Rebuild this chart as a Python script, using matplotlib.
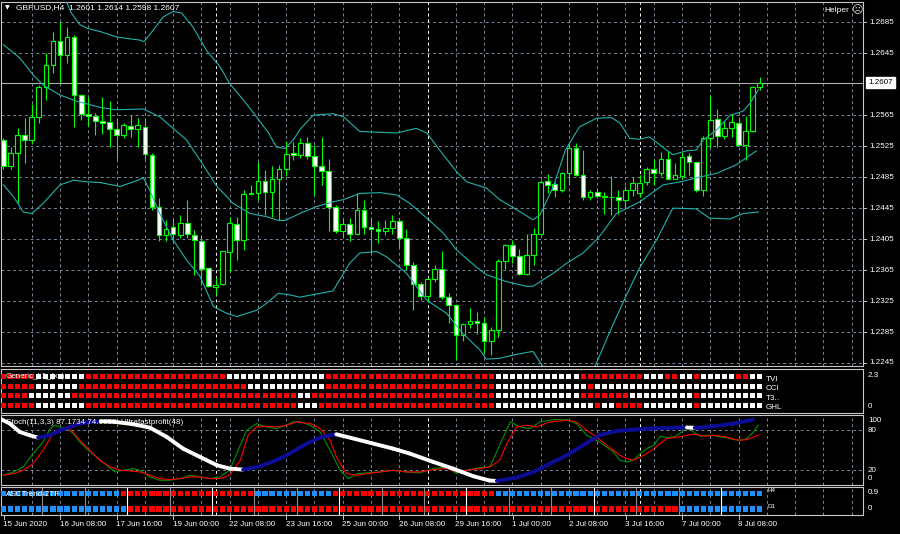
import matplotlib
matplotlib.use('Agg')
import matplotlib.pyplot as plt
import numpy as np
from matplotlib.collections import LineCollection
from matplotlib.lines import Line2D

W, H = 900, 534

# GBPUSD H4 candles, one per bar (15 Jun 2020 00:00 .. 8 Jul 2020 20:00)
opens = [1.2533, 1.2499, 1.2516, 1.2540, 1.2533, 1.2563, 1.2601, 1.2630, 1.2661, 1.2643,
         1.2666, 1.2591, 1.2567, 1.2564, 1.2557, 1.2556, 1.2547, 1.2540, 1.2551, 1.2547,
         1.2550, 1.2514, 1.2447, 1.2410, 1.2420, 1.2410, 1.2426, 1.2410, 1.2403, 1.2368,
         1.2343, 1.2347, 1.2388, 1.2425, 1.2404, 1.2463, 1.2465, 1.2480, 1.2466, 1.2483,
         1.2496, 1.2516, 1.2514, 1.2529, 1.2512, 1.2499, 1.2493, 1.2447, 1.2415, 1.2424,
         1.2412, 1.2443, 1.2420, 1.2418, 1.2416, 1.2419, 1.2429, 1.2407, 1.2372, 1.2347,
         1.2332, 1.2353, 1.2366, 1.2330, 1.2320, 1.2281, 1.2295, 1.2299, 1.2296, 1.2273,
         1.2288, 1.2377, 1.2397, 1.2383, 1.2360, 1.2385, 1.2412, 1.2480, 1.2476, 1.2468,
         1.2491, 1.2523, 1.2488, 1.2459, 1.2466, 1.2461, 1.2460, 1.2459, 1.2455, 1.2468,
         1.2464, 1.2479, 1.2496, 1.2490, 1.2509, 1.2483, 1.2487, 1.2512, 1.2504, 1.2468,
         1.2535, 1.2560, 1.2538, 1.2549, 1.2555, 1.2527, 1.2544, 1.2601]
highs = [1.2535, 1.2524, 1.2548, 1.2561, 1.2580, 1.2604, 1.2645, 1.2673, 1.2685, 1.2679,
         1.2669, 1.2592, 1.2588, 1.2568, 1.2589, 1.2583, 1.2561, 1.2555, 1.2565, 1.2561,
         1.2561, 1.2516, 1.2458, 1.2430, 1.2431, 1.2436, 1.2456, 1.2417, 1.2410, 1.2368,
         1.2356, 1.2389, 1.2434, 1.2433, 1.2468, 1.2475, 1.2505, 1.2494, 1.2500, 1.2501,
         1.2532, 1.2531, 1.2535, 1.2537, 1.2527, 1.2537, 1.2508, 1.2449, 1.2432, 1.2432,
         1.2464, 1.2456, 1.2434, 1.2428, 1.2430, 1.2436, 1.2432, 1.2418, 1.2376, 1.2350,
         1.2356, 1.2372, 1.2389, 1.2335, 1.2321, 1.2297, 1.2316, 1.2311, 1.2305, 1.2292,
         1.2379, 1.2399, 1.2404, 1.2392, 1.2412, 1.2419, 1.2481, 1.2489, 1.2479, 1.2492,
         1.2529, 1.2529, 1.2520, 1.2468, 1.2471, 1.2466, 1.2486, 1.2468, 1.2473, 1.2485,
         1.2488, 1.2498, 1.2508, 1.2518, 1.2519, 1.2503, 1.2518, 1.2516, 1.2505, 1.2538,
         1.2591, 1.2573, 1.2557, 1.2567, 1.2563, 1.2564, 1.2603, 1.2614]
lows = [1.2496, 1.2496, 1.2452, 1.2503, 1.2529, 1.2555, 1.2585, 1.2619, 1.2606, 1.2632,
        1.2550, 1.2559, 1.2551, 1.2539, 1.2541, 1.2524, 1.2509, 1.2535, 1.2537, 1.2524,
        1.2509, 1.2443, 1.2402, 1.2402, 1.2402, 1.2406, 1.2406, 1.2359, 1.2346, 1.2343,
        1.2333, 1.2346, 1.2363, 1.2378, 1.2391, 1.2463, 1.2456, 1.2436, 1.2434, 1.2430,
        1.2486, 1.2507, 1.2510, 1.2509, 1.2462, 1.2475, 1.2415, 1.2413, 1.2407, 1.2402,
        1.2411, 1.2411, 1.2387, 1.2400, 1.2410, 1.2412, 1.2395, 1.2365, 1.2313, 1.2326,
        1.2324, 1.2349, 1.2328, 1.2297, 1.2249, 1.2273, 1.2290, 1.2283, 1.2258, 1.2255,
        1.2278, 1.2367, 1.2374, 1.2359, 1.2359, 1.2372, 1.2411, 1.2465, 1.2459, 1.2466,
        1.2477, 1.2487, 1.2456, 1.2456, 1.2458, 1.2437, 1.2436, 1.2438, 1.2445, 1.2461,
        1.2460, 1.2475, 1.2475, 1.2486, 1.2482, 1.2482, 1.2483, 1.2488, 1.2466, 1.2461,
        1.2522, 1.2524, 1.2534, 1.2537, 1.2525, 1.2507, 1.2543, 1.2598]
closes = [1.2499, 1.2516, 1.2540, 1.2533, 1.2563, 1.2601, 1.2630, 1.2661, 1.2643, 1.2666,
          1.2591, 1.2567, 1.2564, 1.2557, 1.2555, 1.2547, 1.2540, 1.2552, 1.2547, 1.2552,
          1.2515, 1.2447, 1.2410, 1.2418, 1.2412, 1.2426, 1.2411, 1.2404, 1.2367, 1.2344,
          1.2346, 1.2389, 1.2426, 1.2404, 1.2463, 1.2464, 1.2480, 1.2466, 1.2483, 1.2496,
          1.2515, 1.2514, 1.2529, 1.2512, 1.2499, 1.2493, 1.2447, 1.2415, 1.2424, 1.2412,
          1.2443, 1.2420, 1.2418, 1.2415, 1.2419, 1.2429, 1.2407, 1.2372, 1.2347, 1.2332,
          1.2353, 1.2366, 1.2330, 1.2320, 1.2281, 1.2295, 1.2299, 1.2296, 1.2273, 1.2288,
          1.2377, 1.2397, 1.2383, 1.2360, 1.2385, 1.2412, 1.2479, 1.2475, 1.2468, 1.2491,
          1.2522, 1.2488, 1.2459, 1.2466, 1.2461, 1.2459, 1.2459, 1.2455, 1.2468, 1.2478,
          1.2478, 1.2496, 1.2490, 1.2508, 1.2483, 1.2488, 1.2511, 1.2505, 1.2469, 1.2536,
          1.2559, 1.2538, 1.2548, 1.2556, 1.2527, 1.2544, 1.2602, 1.2607]

# Bollinger bands (bar position, price)
bb_up_x = [0, 3, 6, 8.9, 9.6, 10.8, 11.9, 13.7, 16.0, 19.3, 19.9, 21.2, 22.6, 24.0, 25.2, 26.8,
           28.7, 30.6, 32.0, 33.9, 35.8, 37.5, 38.6, 39.8, 41.0, 41.9, 43.8, 46.6, 48.1, 50.4,
           55.6, 58.4, 59.9, 61.7, 64.1, 65.5, 68.3, 70.2, 72.6, 74.9, 75.9, 77.8, 79.5, 81.5,
           83.9, 86.0, 87.2, 88.6, 90.0, 91.4, 93.8, 94.7, 96.6, 98.0, 99.0, 100.9, 102.8,
           104.6, 105.6, 106.8]
bb_up_y = [1.2840, 1.2800, 1.2750, 1.2712, 1.2697, 1.2682, 1.2677, 1.2673, 1.2666, 1.2662,
           1.2660, 1.2675, 1.2692, 1.2699, 1.2697, 1.2679, 1.2649, 1.2628, 1.2606, 1.2585,
           1.2563, 1.2542, 1.2524, 1.2522, 1.2533, 1.2546, 1.2565, 1.2567, 1.2563, 1.2544,
           1.2542, 1.2548, 1.2542, 1.2520, 1.2492, 1.2479, 1.2471, 1.2456, 1.2443, 1.2430,
           1.2436, 1.2473, 1.2520, 1.2550, 1.2561, 1.2562, 1.2555, 1.2535, 1.2534, 1.2537,
           1.2520, 1.2514, 1.2519, 1.2520, 1.2533, 1.2546, 1.2565, 1.2570, 1.2580, 1.2598]
bb_mid_x = [0, 2.3, 4.2, 5.6, 8.0, 10.4, 13.7, 16.0, 19.8, 22.1, 24.0, 25.9, 27.8, 30.2, 32.5,
            34.9, 37.2, 38.9, 39.8, 41.0, 41.9, 44.3, 46.6, 48.1, 50.4, 53.3, 55.6, 57.5, 59.9,
            62.2, 64.1, 66.5, 68.3, 71.2, 74.0, 74.9, 77.8, 79.7, 82.0, 84.2, 86.7, 90.0,
            93.3, 95.8, 98.0, 100.9, 103.7, 106.5]
bb_mid_y = [1.2656, 1.2639, 1.2617, 1.2604, 1.2591, 1.2583, 1.2575, 1.2572, 1.2573, 1.2563,
            1.2548, 1.2533, 1.2507, 1.2473, 1.2451, 1.2438, 1.2434, 1.2429, 1.2429, 1.2434,
            1.2438, 1.2447, 1.2453, 1.2456, 1.2464, 1.2465, 1.2462, 1.2451, 1.2432, 1.2413,
            1.2391, 1.2372, 1.2359, 1.2350, 1.2344, 1.2344, 1.2361, 1.2374, 1.2387, 1.2407,
            1.2438, 1.2453, 1.2475, 1.2479, 1.2484, 1.2490, 1.2501, 1.2519]
bb_low_x = [0, 1.4, 2.8, 4.0, 5.6, 8.0, 9.9, 11.8, 13.7, 16.5, 18.4, 19.8, 20.7, 22.1, 24.0,
            25.9, 27.8, 29.7, 31.6, 33.0, 34.4, 35.8, 37.2, 38.9, 40.5, 41.9, 46.6, 49.0, 50.4,
            52.8, 54.2, 57.0, 59.9, 62.7, 65.0, 67.4, 68.3, 70.2, 72.5, 74.9, 76.5, 79.0, 81.5,
            83.7, 86.0, 88.0, 90.0, 92.4, 94.7, 98.0, 99.9, 102.8, 104.6, 106.8]
bb_low_y = [1.2475, 1.2460, 1.2440, 1.2438, 1.2451, 1.2475, 1.2481, 1.2479, 1.2478, 1.2473,
            1.2479, 1.2484, 1.2468, 1.2438, 1.2404, 1.2378, 1.2357, 1.2318, 1.2309, 1.2305,
            1.2309, 1.2313, 1.2322, 1.2335, 1.2333, 1.2330, 1.2338, 1.2374, 1.2387, 1.2389,
            1.2382, 1.2361, 1.2326, 1.2309, 1.2283, 1.2262, 1.2250, 1.2251, 1.2256, 1.2260,
            1.2238, 1.2220, 1.2225, 1.2241, 1.2290, 1.2330, 1.2368, 1.2404, 1.2445, 1.2444,
            1.2432, 1.2431, 1.2438, 1.2440]

# Stochastic(11,3,3): main (green) and signal (red)
k_x = [0, 1.4, 2.8, 4.2, 5.6, 6.6, 7.3, 8.0, 9.0, 9.9, 10.8, 12.0, 13.2, 14.6, 15.8, 17.0, 18.4,
       19.3, 20.7, 22.1, 23.5, 25.0, 26.4, 27.8, 29.2, 30.6, 32.0, 33.0, 34.4, 35.8, 37.2, 38.6,
       40.0, 41.0, 41.9, 43.4, 44.8, 45.7, 46.7, 47.6, 48.8, 50.0, 51.4, 53.3, 55.1, 57.0, 58.9,
       60.8, 62.7, 64.1, 65.5, 67.4, 68.8, 70.2, 71.7, 73.1, 74.5, 75.9, 77.8, 79.7, 81.1, 82.5,
       84.4, 85.3, 86.3, 87.2, 88.2, 89.1, 90.1, 91.0, 92.0, 92.9, 93.8, 94.8, 95.7, 96.7, 97.6,
       98.6, 99.5, 100.4, 101.4, 102.3, 103.3, 104.2, 105.2, 106.1, 106.8]
k_y = [12.5, 17.5, 25, 45, 62.5, 82.5, 87.5, 85, 82.5, 75, 62.5, 50, 40, 27.5, 17.5, 20, 22.5,
       20, 10, 5, 5, 7.5, 12.5, 10, 7.5, 10, 20, 45, 80, 90, 85, 82.5,
       87.5, 92.5, 93, 87.5, 77.5, 60, 40, 20, 7.5, 15, 16, 17.5, 20, 17.5, 16,
       22.5, 25, 15, 20, 24, 25, 57.5, 92.5, 85, 82.5, 92.5, 96, 96, 90, 72.5,
       62, 55, 47.5, 35, 32.5, 35, 45, 52.5, 57.5, 71, 69, 70, 75, 85, 77.5,
       71, 72.5, 72.5, 70, 69, 66, 65, 67.5, 77.5, 87.5]
d_x = [0, 1.4, 2.8, 4.2, 5.6, 7.0, 8.5, 9.6, 10.8, 12.2, 13.6, 15.1, 16.5, 17.9, 19.3, 20.7,
       22.1, 23.5, 25.0, 26.4, 27.8, 29.2, 30.6, 32.0, 33.5, 34.6, 35.8, 37.2, 38.6, 40.0, 41.5,
       43.4, 44.8, 46.2, 47.1, 48.5, 50.0, 51.4, 53.3, 55.1, 57.0, 58.9, 60.8, 62.7, 64.1, 65.5,
       67.4, 68.8, 70.2, 71.2, 72.6, 74.0, 75.4, 77.3, 79.7, 81.1, 82.5, 83.9, 85.3, 86.3, 87.2,
       88.2, 89.1, 90.1, 91.0, 92.0, 92.9, 93.8, 94.8, 95.7, 96.7, 97.6, 98.6, 99.5, 100.4,
       101.4, 102.3, 103.3, 104.2, 105.2, 106.1, 106.8]
d_y = [12.5, 15, 20, 30, 50, 75, 82.5, 80, 65, 50, 35, 25, 20, 19, 17.5, 12.5,
       7.5, 6, 7.5, 10, 10, 7.5, 7.5, 12.5, 35, 72.5, 85, 86, 85, 87.5, 92.5,
       90, 82.5, 65, 40, 15, 12.5, 15, 17.5, 20, 17.5, 17.5, 21, 22.5, 17.5, 20,
       22.5, 25, 35, 60, 85, 87.5, 85, 92.5, 95, 92.5, 80, 70, 57.5, 50, 42.5,
       37.5, 35, 40, 45, 52.5, 60, 67.5, 69, 70, 72.5, 74, 72.5, 71, 72.5,
       71, 70, 66.5, 65, 66, 70, 72.5]

# thick trend line (white falling / blue rising)
fp_x = [-0.5, 0.9, 2.3, 3.7, 4.9, 6.6, 8.0, 9.4, 10.8, 12.2, 13.8, 15.5, 18.4, 20.7, 23.1, 25.4,
        27.8, 30.2, 32.0, 33.9, 36.3, 38.6, 40.5, 41.9, 43.4, 44.8, 46.2, 47.1, 51.4, 55.1, 57.5,
        60.8, 63.6, 66.5, 68.8, 69.8, 72.6, 75.0, 77.3, 79.7, 82.0, 84.4, 86.8, 89.1, 91.5, 93.8,
        95.7, 96.7, 97.8, 98.5, 100.4, 103.3, 106.0]
fp_y = [97.5, 90, 77.5, 72.5, 69, 72.5, 80, 85, 90, 92.5, 93.5, 93, 89, 84, 70, 52.5,
        40, 27.5, 22.5, 21, 26, 35, 45, 54, 62.5, 69, 72.5, 74, 62.5, 52.5, 45,
        32.5, 22.5, 11, 4.5, 4, 9, 17.5, 30, 42.5, 57.5, 73, 79, 81, 82.5, 83.5,
        84, 84.2, 83.6, 84, 86, 90, 96]

# Generic panel rows (R = red, W = white), one letter per bar
gen_rows = {
    'TVI': "RRRRRWWWWW WWRRRRRRRR RRRRRRRRRR RRWWWWWWWW WWWWWWRRRR RRRRRRRRRR RRRRRRRRRR "
           "WWWWWWWWWW WWRRRRRRRR RWWWRRWWRW WWWWRRWW",
    'CCI': "RRRRRWWWWW WRRRRRRRRR RRRRRRRRRR RRRRRWWWWW WWWWWWRRRR RRRRRRRRRR RRRRRRRRRR "
           "WWWWWWWWWW WWWRWWWWWW WWWWWWWWWW WWWWWWWW",
    'T3..': "RRRRWWWWWW RRRRRRRRRR RRRRRRRRRR RRRRRRRRRR RRWWRRRRRR RRRRRRRRRR RRRRRRRRRR "
            "WWWWWWWWWW WWRRRRRRRW WWWWWWWWRW WWWWWWWW",
    'GHL': "RRRRRWWWWW WWRRRRRRRR RRRRRRRRRR RRRRRRRRRR RRWWWRRRRR RRRRRRRRRR RRRRRRRRRR "
           "WWWWWWWWWW WWWWRWWRRR RWWWWWWWRW WWWWWWWW",
}
gen_levels = [1.9, 1.4, 0.9, 0.4]

# ASCTrend-2TF rows (B = blue, R = red)
asc_h4 = ("BBBBBBBBBB BBBBBBBRRR RRRRRRRRRR RRRRRRBBBB BBBBBBBRRR RRRRRRRRRR RRRRRRRRRR "
          "BBBBBBBBBB BBBBBBBBBB BBBBBBBBBB BBBBBBBB")
asc_d1 = ("BBBBBBBBBB BBBBBBBBRR RRRRRRRRRR RRRRRRRRRR RRRRRRRRRR RRRRRRRRRR RRRRRRRRRR "
          "RRRRRRRRRR RRRRRRRRRR RRRRRRBBBB BBBBBBBB")
asc_white_days = [2, 4, 7, 10, 13, 16]

price_ticks = [1.2685, 1.2645, 1.2565, 1.2525, 1.2485, 1.2445, 1.2405, 1.2365, 1.2325, 1.2285, 1.2245]
last_price = 1.2607
x_labels = ['15 Jun 2020', '16 Jun 08:00', '17 Jun 16:00', '19 Jun 00:00', '22 Jun 08:00',
            '23 Jun 16:00', '25 Jun 00:00', '26 Jun 08:00', '29 Jun 16:00', '1 Jul 00:00',
            '2 Jul 08:00', '3 Jul 16:00', '7 Jul 00:00', '8 Jul 08:00']
week_starts = [30, 60, 90]

FONT = 'Liberation Sans'
GRID = '#778899'
LIME = '#00ff00'
BAND = '#20b2aa'
FRAME = '#c8c8c8'
XMIN, XMAX = -0.35, 121.6


def bar_px(b):
    return 3.5 + 7.07 * b


fig = plt.figure(figsize=(9, 5.34), dpi=100, facecolor='black')


def panel(y0, y1):
    ax = fig.add_axes([1 / W, 1 - y1 / H, 862 / W, (y1 - y0) / H])
    ax.set_facecolor('black')
    ax.set_xlim(XMIN, XMAX)
    ax.set_xticks([])
    ax.set_yticks([])
    for s in ax.spines.values():
        s.set_color(FRAME)
        s.set_linewidth(0.8)
    return ax


def ftext(x, y, s, size=5.8, **kw):
    kw.setdefault('color', 'white')
    kw.setdefault('va', 'center')
    kw.setdefault('family', FONT)
    return fig.text(x / W, 1 - y / H, s, fontsize=size, **kw)


def vgrid(ax):
    for b in range(4, 121, 4):
        ax.axvline(b, color=GRID, lw=0.7, ls=(0, (3, 3)), zorder=1)
    for b in week_starts:
        ax.axvline(b, color='white', lw=0.7, ls=(0, (3, 3)), zorder=1.2)


# ---------------- main price panel ----------------
ax = panel(2, 366)
ax.set_ylim(1.22411, 1.27112)
vgrid(ax)
for p in price_ticks:
    ax.axhline(p, color=GRID, lw=0.7, ls=(0, (3, 3)), zorder=1)
ax.axhline(last_price, color='#b0b0b0', lw=0.8, zorder=1.5)

idx = np.arange(len(opens))
o = np.array(opens); c = np.array(closes)
ax.vlines(idx, lows, highs, color=LIME, lw=0.8, zorder=2)
body_lo = np.minimum(o, c)
body_h = np.maximum(np.abs(c - o), 0.00006)
fills = ['black' if cc >= oo else 'white' for oo, cc in zip(o, c)]
ax.bar(idx, body_h, bottom=body_lo, width=0.66, color=fills, edgecolor=LIME, linewidth=0.8, zorder=3)

ax.plot(bb_up_x, bb_up_y, color=BAND, lw=0.8, zorder=4)
ax.plot(bb_mid_x, bb_mid_y, color=BAND, lw=0.8, zorder=4)
ax.plot(bb_low_x, bb_low_y, color=BAND, lw=0.8, zorder=4)

# right price scale
for p in price_ticks:
    y = 22.3 + (1.2685 - p) / 0.00012915
    ftext(869, y, '%.4f' % p)
    fig.add_artist(Line2D([863 / W, 866 / W], [1 - y / H] * 2, color=FRAME, lw=0.7))
y_last = 22.3 + (1.2685 - last_price) / 0.00012915
ftext(868, y_last, '%.4f' % last_price, color='black',
      bbox=dict(boxstyle='square,pad=0.25', fc='white', ec='white'))

ftext(5, 8, '\u25bc', size=4.5, family='DejaVu Sans')
ftext(16, 8, 'GBPUSD,H4  1.2601 1.2614 1.2598 1.2607', size=6)
ftext(824, 10, 'Helper', size=6)
ftext(851, 10, '\u2639', size=8, family='DejaVu Sans', color='#dddddd')

# ---------------- Generic panel ----------------
gx = panel(369, 413)
gx.set_ylim(0, 2.3)
for (name, row), lev in zip(gen_rows.items(), gen_levels):
    row = ''.join(row.split())
    cols = ['#ff0000' if ch == 'R' else 'white' for ch in row]
    gx.scatter(idx, [lev] * len(row), marker='s', s=13, c=cols, linewidths=0, zorder=3)
    gy = 369 + (2.3 - lev) / 2.3 * 44
    ftext(766, gy + 2.5, name, size=5.8)
gx.text(6 / W, 1 - 376 / H, 'Generic_L1_(xx)', transform=fig.transFigure, color='white',
        fontsize=5.8, family=FONT, va='center', zorder=6)
ftext(868, 375.5, '2.3')
ftext(868, 407, '0')

# ---------------- Stochastic panel ----------------
sx = panel(415, 485)
sx.set_ylim(-2.1, 102.9)
vgrid(sx)
for lev in (20, 80):
    sx.axhline(lev, color=GRID, lw=0.7, ls=(0, (3, 3)), zorder=1)
sx.plot(k_x, k_y, color='#009000', lw=0.8, zorder=3)
sx.plot(d_x, d_y, color='#ff0000', lw=0.8, zorder=3)
pts = np.column_stack([fp_x, fp_y])
segs = np.stack([pts[:-1], pts[1:]], axis=1)
seg_cols = ['#0c0c96' if b > a else 'white' for a, b in zip(fp_y[:-1], fp_y[1:])]
sx.add_collection(LineCollection(segs, colors=seg_cols, linewidths=2.8, capstyle='round', zorder=4))
sx.text(6 / W, 1 - 423 / H, 'Stoch(11,3,3) 87.1734 74.6686  Ultrafastprofit(48)',
        transform=fig.transFigure, color='white', fontsize=5.8, family=FONT, va='center', zorder=6)
ftext(868, 421, '100')
ftext(868, 430.3, '80')
ftext(868, 470.3, '20')
ftext(868, 479, '0')

# ---------------- ASCTrend panel ----------------
ax3 = panel(487, 515)
ax3.set_ylim(-0.345, 1.26)
vgrid(ax3)
for k in range(17):
    col = 'white' if k in asc_white_days else '#8a8a8a'
    ax3.axvline(5.5 + 6 * k, color=col, lw=0.8, zorder=1.5)
for row, lev in ((asc_h4, 0.9), (asc_d1, 0.0)):
    row = ''.join(row.split())
    cols = ['#1e90ff' if ch == 'B' else '#ff0000' for ch in row]
    ax3.scatter(idx, [lev] * len(row), marker='s', s=14, c=cols, linewidths=0, zorder=3)
ax3.text(6 / W, 1 - 494 / H, 'ASCTrend-2TF', transform=fig.transFigure, color='white',
         fontsize=5.8, family=FONT, va='center', zorder=6)
ftext(767, 491, 'H4', size=4.5)
ftext(767, 506, 'D1', size=4.5)
ftext(868, 493, '0.9')
ftext(868, 509, '0')

# ---------------- time axis ----------------
for i, lab in enumerate(x_labels):
    x = bar_px(8 * i)
    ftext(x - 0.5, 524.5, lab, size=5.8, ha='left')
    fig.add_artist(Line2D([x / W, x / W], [1 - 515 / H, 1 - 519 / H], color=FRAME, lw=0.7))

fig.savefig('out.png', dpi=100, facecolor='black')
